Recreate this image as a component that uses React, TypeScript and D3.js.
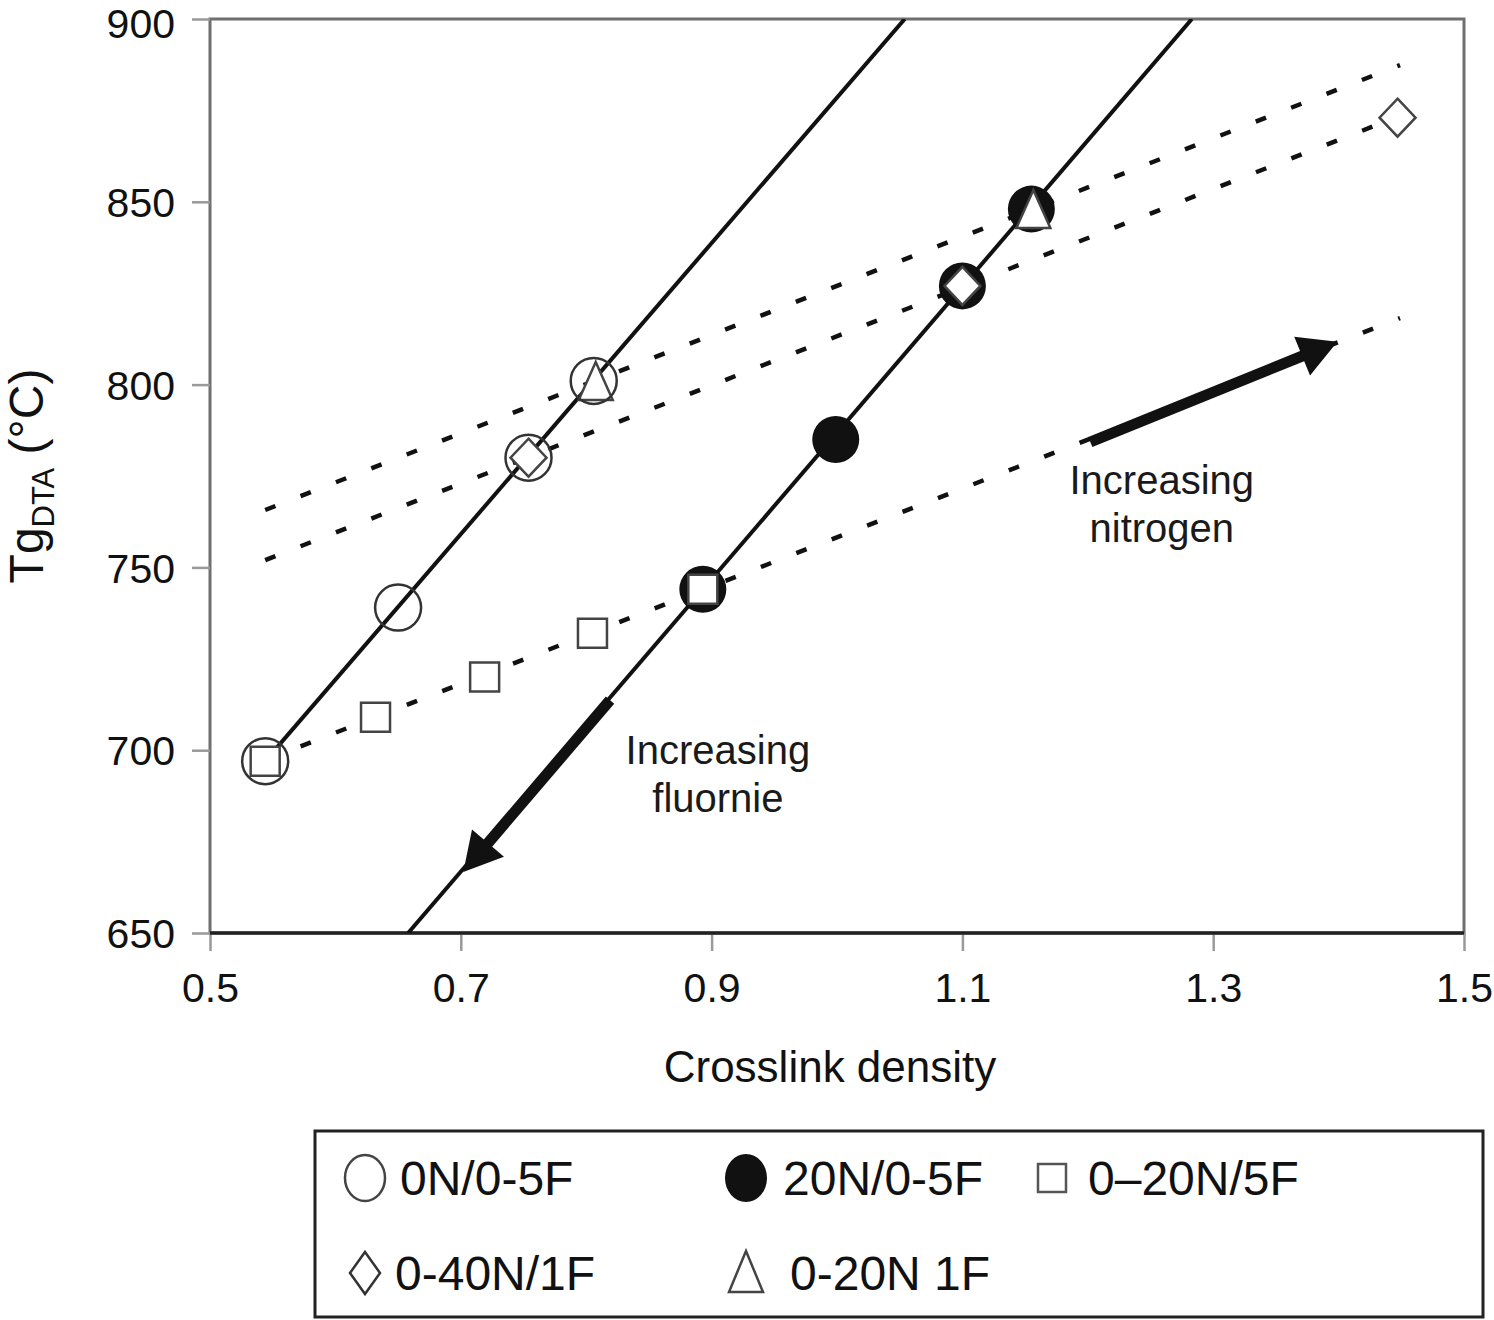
import { useEffect, useRef } from "react"
import * as d3 from "d3"

// measured points [crosslink density, Tg]
const n0F05 = [[0.544, 697], [0.65, 739], [0.754, 780], [0.806, 801]]
const n20F05 = [[0.893, 744], [0.999, 785], [1.1, 827], [1.155, 848]]
const n020F5 = [[0.544, 697], [0.632, 709], [0.719, 720], [0.805, 732], [0.893, 744]]
const n040F1 = [[0.754, 780], [1.1, 827], [1.447, 873]]
const n020F1 = [[0.806, 801], [1.155, 848]]

// fitted trend lines
const solidFits = [
  [[0.544, 697], [1.054, 900]],
  [[0.658, 650], [1.283, 900]],
]
const dashedFits = [
  [[0.544, 765.7], [1.449, 887.4]],
  [[0.544, 752], [1.449, 873.5]],
  [[0.544, 697.3], [1.449, 818.2]],
]

// annotation arrows [from, to] and labels
const arrows = [
  [[1.202, 784.3], [1.399, 811.7]],
  [[0.819, 713.7], [0.702, 666.7]],
]
const notes = [
  { at: [1.259, 770.1], lines: ["Increasing", "nitrogen"] },
  { at: [0.905, 696.2], lines: ["Increasing", "fluornie"] },
]

const xTicks = [0.5, 0.7, 0.9, 1.1, 1.3, 1.5]
const yTicks = [650, 700, 750, 800, 850, 900]

const legendRows = [
  [{ k: "open", label: "0N/0-5F" }, { k: "filled", label: "20N/0-5F" }, { k: "square", label: "0–20N/5F" }],
  [{ k: "diamond", label: "0-40N/1F" }, { k: "triangle", label: "0-20N 1F" }],
]

const FONT = "'Liberation Sans', Arial, Helvetica, sans-serif"

const circlePath = (r: number) => d3.symbol(d3.symbolCircle, Math.PI * r * r)() as string
const squarePath = (s: number) => d3.symbol(d3.symbolSquare, s * s)() as string
const diamondPath = (w: number, h: number) => `M0,${-h}L${w},0L0,${h}L${-w},0Z`
const trianglePath = (w: number, top: number, bot: number) => `M0,${-top}L${w},${bot}L${-w},${bot}Z`

export default function App() {
  const svgRef = useRef<SVGSVGElement>(null)

  useEffect(() => {
    document.body.style.margin = "0"
    if (!svgRef.current) return
    const W = 1494
    const H = 1320
    const svg = d3.select(svgRef.current).attr("width", W).attr("height", H)
    svg.selectAll("*").remove()
    svg.append("rect").attr("width", W).attr("height", H).attr("fill", "#fff")

    const left = 210, right = 1464, top = 19, bottom = 933
    const x = d3.scaleLinear().domain([0.5, 1.5]).range([left, right])
    const y = d3.scaleLinear().domain([650, 900]).range([bottom, top])

    svg.append("clipPath").attr("id", "plot")
      .append("rect").attr("x", left).attr("y", top).attr("width", right - left).attr("height", bottom - top)

    // frame
    svg.append("rect")
      .attr("x", left).attr("y", top).attr("width", right - left).attr("height", bottom - top)
      .attr("fill", "none").attr("stroke", "#6f6f6f").attr("stroke-width", 3)

    // axes
    const yAxis = svg.append("g").attr("transform", `translate(${left},0)`)
      .call(d3.axisLeft(y).tickValues(yTicks).tickSize(18).tickPadding(17).tickFormat(d3.format("d")))
    const xAxis = svg.append("g").attr("transform", `translate(0,${bottom})`)
      .call(d3.axisBottom(x).tickValues(xTicks).tickSize(18).tickPadding(22).tickFormat(d3.format(".1f")))
    for (const ax of [yAxis, xAxis]) {
      ax.select(".domain").remove()
      ax.selectAll(".tick line").attr("stroke", "#999").attr("stroke-width", 2.5)
      ax.selectAll(".tick text").attr("fill", "#111").style("font-family", FONT).style("font-size", "41px")
    }
    // keep the top label inside the page
    yAxis.selectAll<SVGTextElement, number>(".tick text").attr("dy", (d) => (d === 900 ? "0.45em" : "0.36em"))
    svg.append("line")
      .attr("x1", left).attr("x2", right).attr("y1", bottom).attr("y2", bottom)
      .attr("stroke", "#222").attr("stroke-width", 3.5)

    // axis titles
    svg.append("text")
      .attr("x", (left + right) / 2 - 7).attr("y", 1082)
      .attr("text-anchor", "middle").attr("fill", "#111")
      .style("font-family", FONT).style("font-size", "44px")
      .text("Crosslink density")

    const yt = svg.append("text")
      .attr("transform", "translate(43,476) rotate(-90)")
      .attr("text-anchor", "middle").attr("fill", "#111")
      .style("font-family", FONT).style("font-size", "48px")
    yt.append("tspan").text("Tg")
    yt.append("tspan").attr("dy", 11).style("font-size", "31px").text("DTA")
    yt.append("tspan").attr("dy", -11).text(" (°C)")

    const line = d3.line<number[]>().x((d) => x(d[0])).y((d) => y(d[1]))
    const plot = svg.append("g").attr("clip-path", "url(#plot)")

    // markers under the lines
    const markers = svg.append("g")
    markers.selectAll(".filled").data(n20F05).enter().append("path")
      .attr("d", circlePath(23.5))
      .attr("transform", (d) => `translate(${x(d[0])},${y(d[1])})`)
      .attr("fill", "#111")
    markers.selectAll(".sq").data(n020F5).enter().append("path")
      .attr("d", squarePath(29))
      .attr("transform", (d) => `translate(${x(d[0])},${y(d[1])})`)
      .attr("fill", "#fff").attr("stroke", "#444").attr("stroke-width", 2.5)
    markers.selectAll(".dia").data(n040F1).enter().append("path")
      .attr("d", diamondPath(18, 19))
      .attr("transform", (d) => `translate(${x(d[0])},${y(d[1])})`)
      .attr("fill", "#fff").attr("stroke", "#444").attr("stroke-width", 2.5)
    markers.selectAll(".tri").data(n020F1).enter().append("path")
      .attr("d", trianglePath(17, 21, 17))
      .attr("transform", (d) => `translate(${x(d[0]) + 2},${y(d[1]) + 2})`)
      .attr("fill", "#fff").attr("stroke", "#444").attr("stroke-width", 2.5)

    // trend lines
    plot.selectAll(".solid").data(solidFits).enter().append("path")
      .attr("d", (d) => line(d)).attr("fill", "none")
      .attr("stroke", "#111").attr("stroke-width", 4)
    plot.selectAll(".dashed").data(dashedFits).enter().append("path")
      .attr("d", (d) => line(d)).attr("fill", "none")
      .attr("stroke", "#111").attr("stroke-width", 4.5).attr("stroke-dasharray", "11,27")

    svg.append("g").selectAll("path").data(n0F05).enter().append("path")
      .attr("d", circlePath(23))
      .attr("transform", (d) => `translate(${x(d[0])},${y(d[1])})`)
      .attr("fill", "none").attr("stroke", "#333").attr("stroke-width", 2.5)

    // arrows
    arrows.forEach(([a, b]) => {
      const x0 = x(a[0]), y0 = y(a[1]), x1 = x(b[0]), y1 = y(b[1])
      const len = Math.hypot(x1 - x0, y1 - y0)
      const ux = (x1 - x0) / len, uy = (y1 - y0) / len
      const head = 38, half = 21
      const bx = x1 - ux * head, by = y1 - uy * head
      svg.append("line")
        .attr("x1", x0).attr("y1", y0).attr("x2", bx + ux * 4).attr("y2", by + uy * 4)
        .attr("stroke", "#111").attr("stroke-width", 11)
      svg.append("path")
        .attr("d", `M${x1},${y1}L${bx - uy * half},${by + ux * half}L${bx + uy * half},${by - ux * half}Z`)
        .attr("fill", "#111")
    })

    notes.forEach((n) => {
      n.lines.forEach((t, i) => {
        svg.append("text")
          .attr("x", x(n.at[0])).attr("y", y(n.at[1]) + i * 48)
          .attr("text-anchor", "middle").attr("fill", "#1a1a1a")
          .style("font-family", FONT).style("font-size", "40px")
          .text(t)
      })
    })

    // legend
    const lg = svg.append("g")
    lg.append("rect").attr("x", 315).attr("y", 1131).attr("width", 1168).attr("height", 186)
      .attr("fill", "none").attr("stroke", "#222").attr("stroke-width", 3)
    const colX = [365, 746, 1052]
    const textX = [400, 783, 1088]
    const rowY = [1178, 1273]
    legendRows.forEach((row, r) => {
      row.forEach((item, c) => {
        const g = lg.append("g").attr("transform", `translate(${colX[c]},${rowY[r]})`)
        if (item.k === "open") {
          g.append("ellipse").attr("rx", 20).attr("ry", 23).attr("fill", "none").attr("stroke", "#444").attr("stroke-width", 2.5)
        } else if (item.k === "filled") {
          g.append("ellipse").attr("rx", 21).attr("ry", 24).attr("fill", "#111")
        } else if (item.k === "square") {
          g.append("path").attr("d", squarePath(28)).attr("fill", "none").attr("stroke", "#555").attr("stroke-width", 2.5)
        } else if (item.k === "diamond") {
          g.append("path").attr("d", diamondPath(15, 21)).attr("fill", "none").attr("stroke", "#333").attr("stroke-width", 2.5)
        } else {
          g.append("path").attr("d", trianglePath(17, 22, 19)).attr("fill", "none").attr("stroke", "#444").attr("stroke-width", 2.5)
        }
        lg.append("text")
          .attr("x", textX[c] + (r === 1 ? (c === 0 ? -5 : 7) : 0)).attr("y", rowY[r] + 17)
          .attr("fill", "#111")
          .style("font-family", FONT).style("font-size", "48px")
          .text(item.label)
      })
    })
  }, [])

  return <svg ref={svgRef} style={{ display: "block" }} />
}
